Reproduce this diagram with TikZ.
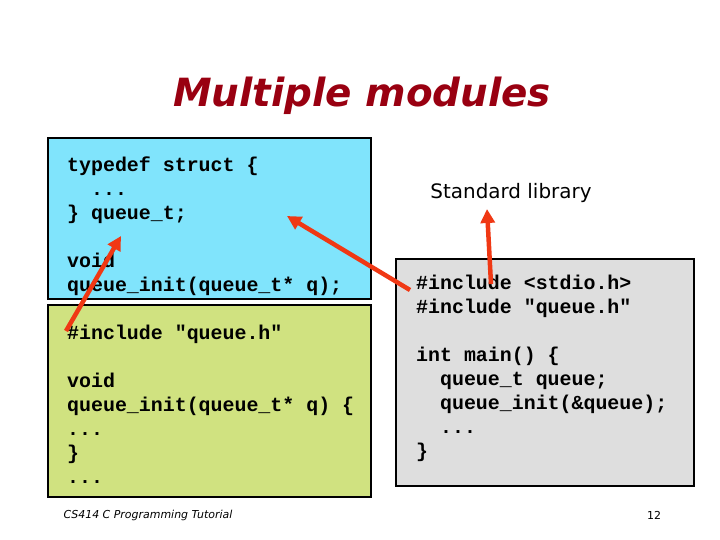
\documentclass[tikz,border=0pt]{standalone}
\usepackage{fontspec}
\setmainfont{DejaVu Sans}
\newfontfamily\codefont{Liberation Mono}
\newfontfamily\titlefont{DejaVu Sans}
\usetikzlibrary{arrows.meta}
\definecolor{titlered}{RGB}{153,0,17}
\definecolor{boxblue}{RGB}{128,228,252}
\definecolor{boxgreen}{RGB}{208,226,128}
\definecolor{boxgray}{RGB}{222,222,222}
\definecolor{arrowred}{RGB}{240,56,20}
\begin{document}
\begin{tikzpicture}[x=1bp,y=-1bp,
  box/.style={draw=black,line width=2bp},
  code/.style={anchor=north west,align=left,inner sep=0pt,font=\codefont\bfseries\fontsize{20}{24}\selectfont},
  ref/.style={draw=arrowred,line width=4.5bp,-{Triangle[length=14bp,width=14bp]}}]
\useasboundingbox (0,0) rectangle (720,540);
\fill[white] (0,0) rectangle (720,540);
\node[font=\titlefont\bfseries\itshape\fontsize{39}{42}\selectfont,text=titlered] (title) at (362,96) {Multiple modules};
\draw[box,fill=boxblue] (48,138) rectangle (371,299);
\draw[box,fill=boxgreen] (48,305) rectangle (371,497);
\draw[box,fill=boxgray] (396,259) rectangle (694,486);
\node[code] (hdr) at (67,157) {typedef struct \{\\\ \ ...\\\} queue\_t;\\[24bp]void\\queue\_init(queue\_t* q);};
\node[code] (impl) at (67,325) {\#include "queue.h"\\[24bp]void\\queue\_init(queue\_t* q) \{\\...\\\}\\...};
\node[code] (main) at (416,275) {\#include <stdio.h>\\\#include "queue.h"\\[24bp]int main() \{\\\ \ queue\_t queue;\\\ \ queue\_init(\&queue);\\\ \ ...\\\}};
\node[font=\fontsize{20}{24}\selectfont] (stdlib) at (511,193) {Standard library};
\node[font=\itshape\fontsize{11}{13}\selectfont,anchor=west] (foot) at (60,515) {CS414 C Programming Tutorial};
\node[font=\fontsize{11}{13}\selectfont] (page) at (654,515) {12};
\coordinate (a1s) at (66,331);
\coordinate (a1e) at (121,236);
\coordinate (a2s) at (410,290);
\coordinate (a2e) at (287,216);
\coordinate (a3s) at (491,284);
\coordinate (a3e) at (487,209);
\draw[ref] (a1s) -- (a1e);
\draw[ref] (a2s) -- (a2e);
\draw[ref] (a3s) -- (a3e);
\end{tikzpicture}
\end{document}
